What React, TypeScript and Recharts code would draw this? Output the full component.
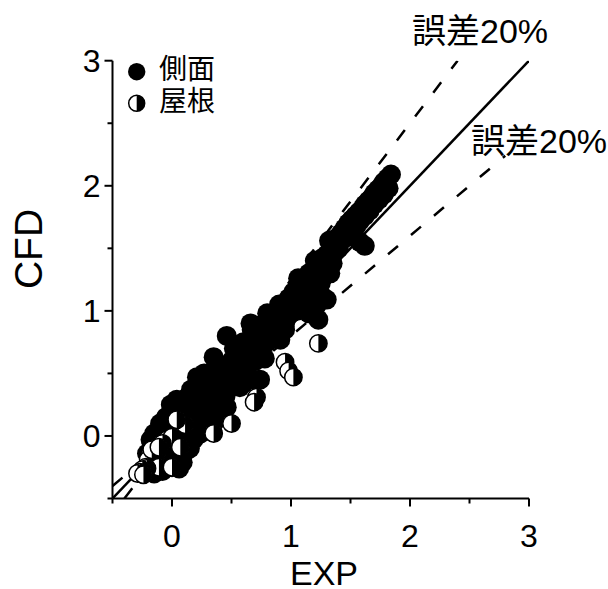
import React from 'react';
import { ScatterChart, Scatter, XAxis, YAxis } from 'recharts';

// axis ticks (minor every 0.5, labels on integers)
const xTicks = [-0.5, 0, 0.5, 1, 1.5, 2, 2.5, 3];
const yTicks = [-0.5, 0, 0.5, 1, 1.5, 2, 2.5, 3];

const seriesNames = ['側面', '屋根'];
const errorLabel = '誤差20%';

// 側面 (filled markers)
const sideExp = [
  -0.15, -0.08, 0.0, 0.06, 0.09, -0.04, -0.21, 0.07, 0.1, 0.18, 0.12, 0.24, 0.15, 0.2, 0.29,
  -0.18, -0.15, -0.1, -0.05, -0.01, 0.04, 0.05, 0.1, 0.13, 0.18, 0.25, 0.32, 0.38, 0.41, 0.28,
  0.22, 0.16, 0.3, 0.38, 0.45, 0.46, 0.21, 0.27, 0.33,
  0.35, 0.46, 0.66, 0.4, 0.43, 0.49, 0.55, 0.57, 0.6, 0.62, 0.5, 0.55, 0.6, 0.65, 0.69, 0.74,
  0.7, 0.75, 0.74, 0.8, 0.8, 0.85, 0.85, 0.9, 0.91, 0.97, 0.9, 0.67, 0.72, 0.78, 0.6, 0.52,
  0.95, 1.0, 1.05, 1.05, 1.1, 1.15, 1.23, 1.18, 1.22, 1.26, 1.3, 1.02, 1.06, 1.1, 1.15, 1.2,
  1.15, 1.2, 1.25, 1.28, 1.33, 1.3, 1.26, 1.36, 1.32, 1.38, 1.42, 1.45, 1.35, 1.4, 1.1, 0.98, 0.9,
  1.84, 1.81, 1.78, 1.76, 1.73, 1.7, 1.68, 1.65, 1.62, 1.6, 1.57, 1.54, 1.51, 1.48,
  1.82, 1.78, 1.74, 1.7, 1.66, 1.62, 1.58, 1.55, 1.51, 1.62, 1.58, 1.48,
  0.3, 0.35, 0.25, 0.2, 0.15, 0.05, 0.0, -0.05, 0.0, 0.05, 0.1, 0.45, 0.5, 0.35, 0.5, 0.58,
  0.65, 0.7, 0.8, 0.85, 0.95, 0.95, 1.0, 1.05, 1.12, 1.2, 1.18, 1.25, 1.3, 1.35, 1.4, 1.45,
  0.68, 0.62, 0.4, 0.25, 0.12,
];
const sideCfd = [
  -0.3, -0.28, -0.25, -0.26, -0.21, -0.19, -0.14, -0.09, -0.14, -0.03, -0.05, 0.02, 0.05, 0.1, 0.1,
  -0.03, 0.02, 0.1, 0.15, 0.25, 0.29, 0.2, 0.25, 0.31, 0.18, 0.25, 0.2, 0.15, 0.18, 0.32,
  0.36, 0.37, 0.4, 0.34, 0.32, 0.23, 0.47, 0.5, 0.45,
  0.63, 0.8, 0.9, 0.55, 0.5, 0.47, 0.52, 0.39, 0.42, 0.55, 0.6, 0.65, 0.7, 0.68, 0.45, 0.45,
  0.6, 0.71, 0.8, 0.75, 0.98, 0.79, 0.9, 0.85, 0.77, 0.95, 1.0, 0.85, 0.88, 0.62, 0.75, 0.7,
  1.02, 0.98, 1.0, 1.1, 1.05, 0.98, 0.93, 1.02, 1.05, 1.12, 1.09, 1.15, 1.26, 1.25, 1.15, 1.18,
  1.3, 1.4, 1.22, 1.28, 1.3, 1.45, 1.42, 1.5, 1.56, 1.58, 1.62, 1.66, 1.38, 1.5, 1.13, 1.1, 1.05,
  2.09, 2.06, 2.03, 2.0, 1.97, 1.94, 1.91, 1.88, 1.85, 1.82, 1.79, 1.76, 1.73, 1.7,
  1.98, 1.93, 1.89, 1.85, 1.8, 1.76, 1.72, 1.68, 1.64, 1.52, 1.55, 1.6,
  0.05, 0.1, 0.1, 0.0, -0.1, -0.15, -0.1, -0.05, 0.05, 0.05, 0.15, 0.4, 0.45, 0.3, 0.52, 0.6,
  0.6, 0.7, 0.85, 0.82, 0.85, 0.9, 1.05, 1.05, 1.1, 1.1, 1.25, 1.35, 1.35, 1.45, 1.55, 1.58,
  0.75, 0.62, 0.45, 0.4, 0.2,
];

// 屋根 (half-filled markers)
const roofExp = [
  1.23, 0.95, 0.98, 1.02, 0.71, 0.69, 0.5, 0.35,
  0.07, 0.11, 0.04, -0.04, 0.0, -0.08, -0.13, -0.155, -0.18, -0.2, -0.22, -0.11, 0.0,
  -0.21, -0.25, -0.27, -0.29, -0.24, 0.07, -0.17, -0.11,
];
const roofCfd = [
  0.74, 0.59, 0.52, 0.47, 0.31, 0.27, 0.1, 0.02,
  0.11, 0.09, 0.13, -0.03, -0.01, -0.06, -0.15, -0.1, -0.13, -0.19, -0.25, -0.25, -0.25,
  -0.26, -0.27, -0.29, -0.3, -0.31, -0.09, -0.11, -0.09,
];

// reference lines: 1:1 and ±20%
const perfectLine = [{ x: -0.5, y: -0.5 }, { x: 3, y: 3 }];
const upperLine = [{ x: -0.4, y: -0.5 }, { x: 2.4, y: 3 }];
const lowerLine = [{ x: -0.5, y: -0.4 }, { x: 2.8, y: 2.24 }];

const sideData = sideExp.map((x, i) => ({ x, y: sideCfd[i] }));
const roofData = roofExp.map((x, i) => ({ x, y: roofCfd[i] }));

const latin = "'Liberation Sans', Arial, sans-serif";
const jp = "'Liberation Sans', 'Noto Sans CJK JP', sans-serif";

function FilledDot({ cx, cy, r = 10 }: any) {
  return <circle cx={cx} cy={cy} r={r} fill="#000" />;
}

function HalfDot({ cx, cy, r = 8.7 }: any) {
  return (
    <g>
      <circle cx={cx} cy={cy} r={r} fill="#fff" stroke="#000" strokeWidth={1.5} />
      <path d={`M${cx},${cy - r} A${r},${r} 0 0 1 ${cx},${cy + r} Z`} fill="#000" />
    </g>
  );
}

function XTick({ x, y, payload }: any) {
  const major = Number.isInteger(payload.value);
  return (
    <g>
      <line x1={x} x2={x} y1={y} y2={y + (major ? 8 : 5)} stroke="#000" strokeWidth={2} />
      {major && (
        <text x={x} y={y + 48} textAnchor="middle" fontSize={32} fontFamily={latin} fill="#000">
          {payload.value}
        </text>
      )}
    </g>
  );
}

function YTick({ x, y, payload }: any) {
  const major = Number.isInteger(payload.value);
  return (
    <g>
      <line x1={x - (major ? 8 : 5)} x2={x} y1={y} y2={y} stroke="#000" strokeWidth={2} />
      {major && (
        <text x={x - 12} y={y + 11.5} textAnchor="end" fontSize={32} fontFamily={latin} fill="#000">
          {payload.value}
        </text>
      )}
    </g>
  );
}

const noShape = () => <g />;

export default function App() {
  return (
    <div style={{ position: 'absolute', left: 0, top: 0, background: '#fff' }}>
      <ScatterChart
        width={608}
        height={589}
        margin={{ top: 60.7, right: 79, bottom: 0.5, left: 0.5 }}
      >
        <XAxis
          type="number"
          dataKey="x"
          domain={[-0.5, 3]}
          ticks={xTicks}
          interval={0}
          height={90}
          tickSize={0}
          tickMargin={0}
          tickLine={false}
          axisLine={{ stroke: '#000', strokeWidth: 2 }}
          tick={(p: any) => <XTick {...p} />}
          allowDataOverflow
        />
        <YAxis
          type="number"
          dataKey="y"
          domain={[-0.5, 3]}
          ticks={yTicks}
          interval={0}
          width={112}
          tickSize={0}
          tickMargin={0}
          tickLine={false}
          axisLine={{ stroke: '#000', strokeWidth: 2 }}
          tick={(p: any) => <YTick {...p} />}
          allowDataOverflow
        />
        <Scatter
          data={perfectLine}
          line={{ stroke: '#000', strokeWidth: 2.5 }}
          shape={noShape}
          isAnimationActive={false}
        />
        <Scatter
          data={upperLine}
          line={{ stroke: '#000', strokeWidth: 2.5, strokeDasharray: '13 17' }}
          shape={noShape}
          isAnimationActive={false}
        />
        <Scatter
          data={lowerLine}
          line={{ stroke: '#000', strokeWidth: 2.5, strokeDasharray: '13 17' }}
          shape={noShape}
          isAnimationActive={false}
        />
        <Scatter name={seriesNames[0]} data={sideData} shape={FilledDot} isAnimationActive={false} />
        <Scatter name={seriesNames[1]} data={roofData} shape={HalfDot} isAnimationActive={false} />

        {/* legend */}
        <g>
          <FilledDot cx={136.7} cy={71.7} r={8.7} />
          <text x={159} y={79} fontSize={28} fontFamily={jp} fill="#000">{seriesNames[0]}</text>
          <HalfDot cx={136.7} cy={103.3} r={8} />
          <text x={159} y={111} fontSize={28} fontFamily={jp} fill="#000">{seriesNames[1]}</text>
        </g>

        {/* annotations */}
        <text x={412} y={43} fontSize={34} fontFamily={jp} fill="#000">{errorLabel}</text>
        <text x={471} y={153} fontSize={34} fontFamily={jp} fill="#000">{errorLabel}</text>

        {/* axis titles */}
        <text x={324} y={585} textAnchor="middle" fontSize={34} fontFamily={latin} fill="#000">EXP</text>
        <text
          x={41.5}
          y={249}
          transform="rotate(-90 41.5 249)"
          textAnchor="middle"
          fontSize={39}
          fontFamily={latin}
          fill="#000"
        >
          CFD
        </text>
      </ScatterChart>
    </div>
  );
}
